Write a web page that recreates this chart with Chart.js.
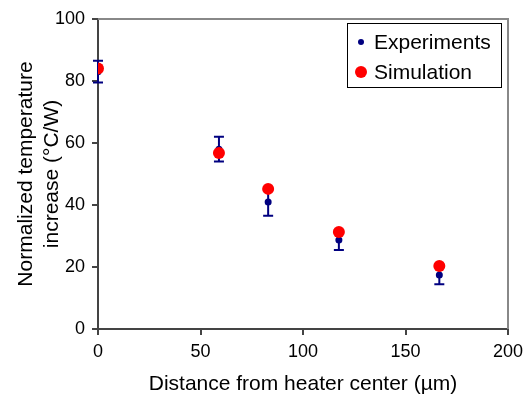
<!DOCTYPE html>
<html>
<head>
<meta charset="utf-8">
<script src="https://cdn.jsdelivr.net/npm/chart.js@4/dist/chart.umd.min.js"></script>
<style>
html,body{margin:0;padding:0;background:#fff;}
canvas{display:block;}
</style>
</head>
<body>
<canvas id="c" width="524" height="399"></canvas>
<script>
const distance = [0, 59, 83, 117.5, 166.5];
const experiments = [83, 58, 41, 28.7, 17.4];
const expError = [3.5, 4, 4.5, 3.2, 3];
const simulation = [84, 56.8, 45.2, 31.3, 20.3];
const xTicks = [0, 50, 100, 150, 200];
const yTicks = [0, 20, 40, 60, 80, 100];
const seriesNames = ['Experiments', 'Simulation'];
const xTitle = 'Distance from heater center (µm)';
const yTitle = ['Normalized temperature', 'increase (°C/W)'];

const FONT = 'Liberation Sans, Arial, sans-serif';
const NAVY = '#000080';
const RED = '#FF0000';

const errorBars = {
  id: 'errorBars',
  beforeDatasetsDraw(chart) {
    const {ctx, scales: {x, y}} = chart;
    ctx.save();
    ctx.strokeStyle = NAVY;
    ctx.lineWidth = 2;
    for (let i = 0; i < distance.length; i++) {
      const px = x.getPixelForValue(distance[i]);
      const top = y.getPixelForValue(experiments[i] + expError[i]);
      const bot = y.getPixelForValue(experiments[i] - expError[i]);
      ctx.beginPath();
      ctx.moveTo(px, top); ctx.lineTo(px, bot);
      ctx.moveTo(px - 5, top); ctx.lineTo(px + 5, top);
      ctx.moveTo(px - 5, bot); ctx.lineTo(px + 5, bot);
      ctx.stroke();
    }
    ctx.restore();
  }
};

const frameAndLegend = {
  id: 'frameAndLegend',
  beforeDatasetsDraw(chart) {
    const {ctx, chartArea: a} = chart;
    ctx.save();
    ctx.strokeStyle = '#888888';
    ctx.lineWidth = 2;
    ctx.beginPath();
    ctx.moveTo(a.left, a.top);
    ctx.lineTo(a.right, a.top);
    ctx.lineTo(a.right, a.bottom);
    ctx.stroke();
    ctx.restore();
  },
  afterDraw(chart) {
    const {ctx, chartArea: a} = chart;
    ctx.save();
    const bx = a.right - 161, by = a.top + 4, bw = 154, bh = 64;
    ctx.fillStyle = '#fff';
    ctx.fillRect(bx, by, bw, bh);
    ctx.strokeStyle = '#000';
    ctx.lineWidth = 1;
    ctx.strokeRect(bx + 0.5, by + 0.5, bw, bh);
    ctx.font = '21px ' + FONT;
    ctx.fillStyle = '#000';
    ctx.textBaseline = 'middle';
    ctx.textAlign = 'left';
    const rows = [{c: NAVY, r: 3}, {c: RED, r: 6}];
    rows.forEach((row, i) => {
      const cy = by + 19 + i * 30;
      ctx.beginPath();
      ctx.fillStyle = row.c;
      ctx.arc(bx + 14, cy, row.r, 0, Math.PI * 2);
      ctx.fill();
      ctx.fillStyle = '#000';
      ctx.fillText(seriesNames[i], bx + 27, cy + 1);
    });
    ctx.restore();
  }
};

new Chart(document.getElementById('c'), {
  type: 'scatter',
  data: {
    datasets: [
      {
        label: seriesNames[1],
        data: distance.map((d, i) => ({x: d, y: simulation[i]})),
        backgroundColor: RED,
        borderWidth: 0,
        pointRadius: 6,
        order: 0
      },
      {
        label: seriesNames[0],
        data: distance.map((d, i) => ({x: d, y: experiments[i]})),
        backgroundColor: NAVY,
        borderWidth: 0,
        pointRadius: 3.5,
        order: 1
      }
    ]
  },
  options: {
    responsive: false,
    animation: false,
    layout: {padding: {top: 19, right: 16, left: 0, bottom: 0}},
    plugins: {legend: {display: false}, tooltip: {enabled: false}},
    scales: {
      x: {
        type: 'linear',
        min: 0, max: 200,
        afterBuildTicks(s) { s.ticks = xTicks.map(v => ({value: v})); },
        afterFit(s) { s.height = 70; s.paddingLeft = 0; s.paddingRight = 0; },
        border: {color: '#444', width: 2},
        grid: {drawOnChartArea: false, drawTicks: true, tickLength: 6, color: '#444', lineWidth: 2},
        ticks: {color: '#000', font: {family: FONT, size: 18}, padding: 6, maxRotation: 0},
        title: {display: true, text: xTitle, color: '#000', font: {family: FONT, size: 21}, padding: {top: 0, bottom: 2}}
      },
      y: {
        type: 'linear',
        min: 0, max: 100,
        afterBuildTicks(s) { s.ticks = yTicks.map(v => ({value: v})); },
        afterFit(s) { s.width = 98; s.paddingTop = 0; s.paddingBottom = 0; },
        border: {color: '#444', width: 2},
        grid: {drawOnChartArea: false, drawTicks: true, tickLength: 6, color: '#444', lineWidth: 2},
        ticks: {color: '#000', font: {family: FONT, size: 18}, padding: 7},
        title: {display: true, text: yTitle, color: '#000', font: {family: FONT, size: 21}, padding: {top: 14, bottom: 0}}
      }
    }
  },
  plugins: [errorBars, frameAndLegend]
});
</script>
</body>
</html>
